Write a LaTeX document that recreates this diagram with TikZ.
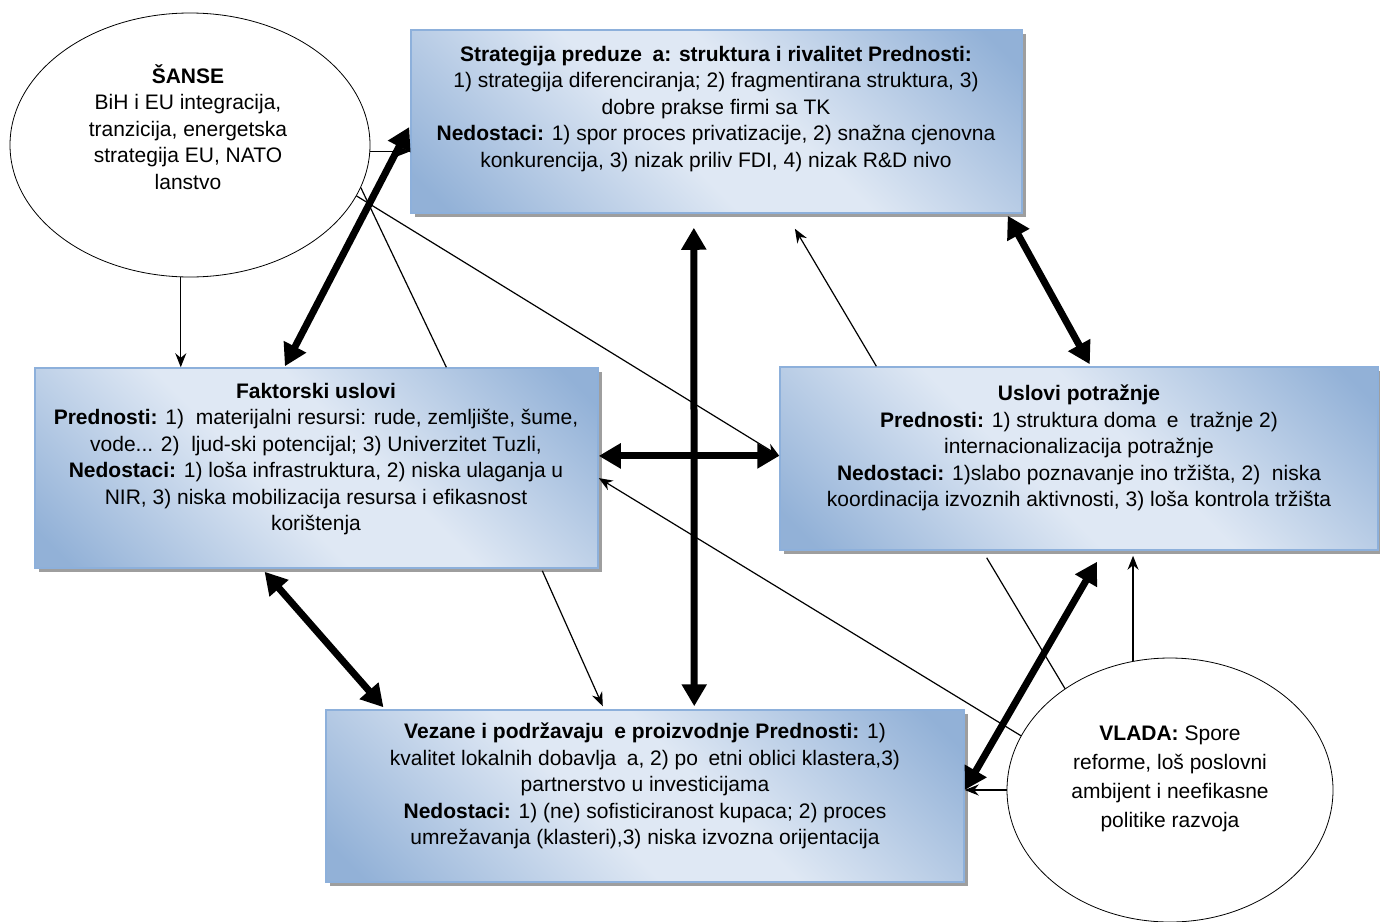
\documentclass[tikz,border=0pt]{standalone}
\usepackage{fontspec}
\setmainfont{Liberation Sans}
\usetikzlibrary{arrows.meta,shapes.geometric,shadows,calc}
\definecolor{bxlight}{RGB}{223,232,244}
\definecolor{bxdark}{RGB}{146,177,215}
\definecolor{bxedge}{RGB}{141,176,219}
\pgfdeclarehorizontalshading{boxsh}{100bp}{color(0bp)=(bxdark); color(18bp)=(bxdark); color(44bp)=(bxlight); color(56bp)=(bxlight); color(82bp)=(bxdark); color(100bp)=(bxdark)}
\begin{document}
\begin{tikzpicture}[x=1pt,y=-1pt,
 box/.style={rectangle, draw=bxedge, line width=1.5pt, shading=boxsh, shading angle=45,
   drop shadow={shadow xshift=4pt,shadow yshift=-4pt,fill=black!38,opacity=1}, inner sep=0pt},
 txt/.style={align=center, font=\fontsize{21}{26.5}\selectfont, inner sep=0pt},
 oval/.style={ellipse, draw, line width=0.8pt, fill=white, inner sep=0pt},
 thinarr/.style={line width=1.2pt, -{Stealth[length=14pt,width=11pt]}},
 plainline/.style={line width=1.2pt},
 heavy/.style={line width=7pt, {Triangle[length=22pt,width=24pt]}-{Triangle[length=22pt,width=24pt]}},
]
\useasboundingbox (0,0) rectangle (1380,921);
\fill[white] (0,0) rectangle (1380,921);

% boxes
\node[box, minimum width=611pt, minimum height=183pt] (top) at (716.5,121.5) {};
\node[box, minimum width=563pt, minimum height=200pt] (fak) at (316.5,468) {};
\node[box, minimum width=598pt, minimum height=183pt] (usl) at (1079,458.5) {};
\node[box, minimum width=638pt, minimum height=172pt] (vez) at (645,796) {};

% texts
\node[txt] (toptxt) at (716,109) {\textbf{Strategija preduze\hspace{0.5em}a: struktura i rivalitet Prednosti:}\\
1) strategija diferenciranja; 2) fragmentirana struktura, 3)\\
dobre prakse firmi sa TK\\
\textbf{Nedostaci:} 1) spor proces privatizacije, 2) snažna cjenovna\\
konkurencija, 3) nizak priliv FDI, 4) nizak R\&D nivo};

\node[txt] (faktxt) at (316,459) {\textbf{Faktorski uslovi}\\
\textbf{Prednosti:} 1)\ \ materijalni resursi: rude, zemljište, šume,\\
vode... 2)\ \ ljud-ski potencijal; 3) Univerzitet Tuzli,\\
\textbf{Nedostaci:} 1) loša infrastruktura, 2) niska ulaganja u\\
NIR, 3) niska mobilizacija resursa i efikasnost\\
korištenja};

\node[txt] (usltxt) at (1079,448) {\textbf{Uslovi potražnje}\\
\textbf{Prednosti:} 1) struktura doma\hspace{0.5em}e\ \ tražnje 2)\\
internacionalizacija potražnje\\
\textbf{Nedostaci:} 1)slabo poznavanje ino tržišta, 2)\ \ niska\\
koordinacija izvoznih aktivnosti, 3) loša kontrola tržišta};

\node[txt] (veztxt) at (645,786) {\textbf{Vezane i podržavaju\hspace{0.5em}e proizvodnje Prednosti:} 1)\\
kvalitet lokalnih dobavlja\hspace{0.5em}a, 2) po\hspace{0.5em}etni oblici klastera,3)\\
partnerstvo u investicijama\\
\textbf{Nedostaci:} 1) (ne) sofisticiranost kupaca; 2) proces\\
umrežavanja (klasteri),3) niska izvozna orijentacija};

% ellipses
\node[oval, minimum width=360pt, minimum height=264pt] (sanse) at (190,145) {};
\node[oval, minimum width=326pt, minimum height=264pt] (vlada) at (1170,790) {};
\node[txt] (sansetxt) at (188,127) {\textbf{ŠANSE}\\ BiH i EU integracija,\\ tranzicija, energetska\\ strategija EU, NATO\\ lanstvo};
\node[txt, font=\fontsize{21}{29}\selectfont] (vladatxt) at (1170,779) {\textbf{VLADA:} Spore\\ reforme, loš poslovni\\ ambijent i neefikasne\\ politike razvoja};

% connection points
\coordinate (cD) at ($(fak.north west)!0.73!(fak.north east)$);
\coordinate (cCb) at ($(fak.north west)!0.444!(fak.north east)+(0,-1)$);
\coordinate (cCt) at ($(top.north west)!0.53!(top.south west)+(-1,0)$);
\coordinate (cFl) at ($(fak.north east)!0.44!(fak.south east)$);
\coordinate (cGt) at ($(top.south west)!0.463!(top.south east)+(0,14)$);
\coordinate (cGb) at ($(vez.north west)!0.577!(vez.north east)+(0,-3)$);
\coordinate (cHs) at ($(usl.north west)!0.162!(usl.north east)$);
\coordinate (cHe) at ($(top.south west)!0.628!(top.south east)+(0,15)$);
\coordinate (cIt) at ($(top.south west)!0.9755!(top.south east)+(0,2)$);
\coordinate (cIb) at ($(usl.north west)!0.518!(usl.north east)+(0,-2)$);
\coordinate (cJs) at ($(fak.south west)!0.9!(fak.south east)+(0,2)$);
\coordinate (cJe) at ($(vez.north west)!0.434!(vez.north east)+(0,-3)$);
\coordinate (cKt) at ($(fak.south west)!0.408!(fak.south east)+(0,3)$);
\coordinate (cKb) at ($(vez.north west)!0.091!(vez.north east)+(0,-2)$);
\coordinate (cL) at ($(fak.north east)!0.55!(fak.south east)$);
\coordinate (cM) at ($(usl.south west)!0.346!(usl.south east)+(0,7)$);
\coordinate (cNt) at ($(usl.south west)!0.53!(usl.south east)+(0,11)$);
\coordinate (cNb) at ($(vez.north east)!0.465!(vez.south east)$);
\coordinate (cO) at ($(vlada.106 |- usl.south)+(0,5)$);

% thin connectors
\draw[thinarr] (sanse.266) -- (sanse.266 |- fak.north);
\draw[thinarr] (sanse.358) -- (sanse.358 -| top.west);
\draw[plainline] (sanse.346) -- (cD);
\draw[thinarr] (sanse.343) -- (usl.west |- cFl);
\draw[thinarr] (cHs) -- (cHe);
\draw[thinarr] (cJs) -- (cJe);
\draw[thinarr] (vlada.160) -- (cL);
\draw[plainline] (vlada.136) -- (cM);
\draw[thinarr] (vlada.106) -- (cO);
\draw[thinarr] (vlada.west) -- (vlada.west -| vez.east);

% heavy connectors
\draw[heavy] (cCb) -- (cCt);
\draw[heavy] (cFl) -- (usl.west |- cFl);
\draw[heavy] (cGt) -- (cGb);
\draw[heavy] (cIt) -- (cIb);
\draw[heavy] (cKt) -- (cKb);
\draw[heavy] (cNt) -- (cNb);
\end{tikzpicture}
\end{document}
